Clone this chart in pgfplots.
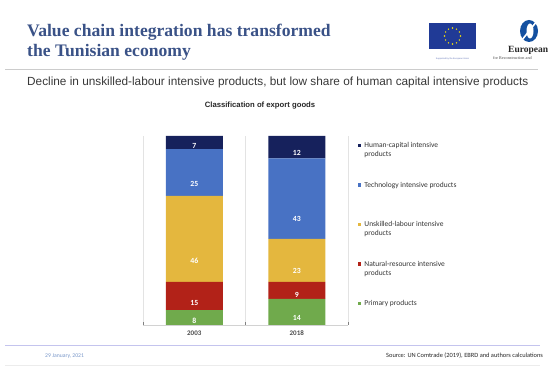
\documentclass[border=0pt]{standalone}
\usepackage{pgfplots}
\pgfplotsset{compat=1.18}
\usepackage{pgfplotstable}
\usepackage{fontspec}
\newfontfamily\calfont{Carlito}
\newfontfamily\arialfont{Liberation Sans}
\newfontfamily\seriffont{Liberation Serif}
\definecolor{navy}{RGB}{22,33,92}
\definecolor{techblue}{RGB}{72,114,196}
\definecolor{gold}{RGB}{228,183,62}
\definecolor{natred}{RGB}{178,34,24}
\definecolor{primgreen}{RGB}{112,170,76}
\definecolor{titleblue}{RGB}{58,82,135}
\definecolor{eublue}{RGB}{32,58,150}
\definecolor{ebrdblue}{RGB}{20,80,160}
\definecolor{datecol}{RGB}{120,150,200}
\pgfplotstableread{
x primary natural unskilled tech human
0 8 15 46 25 7
1 14 9 23 43 12
}\exports
\pgfplotsset{
  myleg/.style={legend image code/.code={\fill[##1] (0pt,0.6pt) rectangle (3.4pt,4.0pt);}},
}
\begin{document}
\begin{tikzpicture}[x=1pt,y=1pt]
\useasboundingbox (0,0) rectangle (556,379);
\clip (0,0) rectangle (556,379);
% title
\node[anchor=base west, inner sep=0, text=titleblue, font=\seriffont\bfseries\fontsize{17.6}{20}\selectfont] at (27,342) {Value chain integration has transformed};
\node[anchor=base west, inner sep=0, text=titleblue, font=\seriffont\bfseries\fontsize{17.6}{20}\selectfont] at (27,322) {the Tunisian economy};
% EU flag
\fill[eublue] (429,330) rectangle (476,356);
\foreach \a in {0,30,...,330}
  \fill[yellow!90!orange] ({452.5+8*cos(\a)},{343+8*sin(\a)}) circle (0.8);
\node[anchor=base, inner sep=0, text=eublue!70, font=\arialfont\fontsize{2.2}{2.5}\selectfont] at (452.5,319) {Supported by the European Union};
% EBRD logo
\fill[ebrdblue] (529,348) ellipse (9 and 11);
\fill[white] (530,348) ellipse (3.5 and 7.5);
\draw[white, line width=1.6pt] (522,339) -- (537,358);
\node[anchor=base west, inner sep=0, text=black!85, font=\seriffont\bfseries\fontsize{9.5}{10}\selectfont] at (508,326) {European};
\node[anchor=base west, inner sep=0, text=black!70, font=\seriffont\fontsize{4.2}{5}\selectfont] at (493,319) {for Reconstruction and};
% header rule
\draw[gray!40, line width=0.9pt] (5,310) -- (538,310);
% subtitle
\node[anchor=base west, inner sep=0, text=black!78, font=\arialfont\fontsize{11.8}{14}\selectfont] at (27,293) {Decline in unskilled-labour intensive products, but low share of human capital intensive products};
% chart title
\node[anchor=base, inner sep=0, text=black!85, font=\arialfont\bfseries\fontsize{7.7}{9}\selectfont] at (260,271) {Classification of export goods};
% footer
\draw[gray!45!blue!30, line width=0.8pt] (5,34) -- (540,34);
\draw[gray!15, line width=0.5pt] (5,14) -- (540,14);
\node[anchor=base west, inner sep=0, text=datecol, font=\calfont\fontsize{5.7}{6}\selectfont] at (45,21) {29 January, 2021};
\node[anchor=base west, inner sep=0, text=black!85, font=\calfont\fontsize{6.4}{7}\selectfont] at (386,21) {Source: UN Comtrade (2019), EBRD and authors calculations};
% chart
\begin{axis}[
  at={(143pt,54pt)}, anchor=south west,
  scale only axis, width=205pt, height=189pt,
  ybar stacked, bar width=57pt,
  xmin=-0.5, xmax=1.5, ymin=0, ymax=101,
  axis y line=none, axis x line*=bottom,
  x axis line style={draw=gray!35, line width=0.6pt, -},
  xtick={0,1}, xticklabels={2003,2018}, major tick length=0pt,
  minor xtick={-0.5,0.5,1.5}, xminorgrids,
  minor grid style={draw=gray!22, line width=0.5pt},
  xticklabel style={font=\calfont\bfseries\fontsize{7}{8}\selectfont, text=black!70, yshift=-2pt},
  /pgf/number format/assume math mode=true,
  visualization depends on=rawy\as\rawy,
  nodes near coords={\pgfmathprintnumber{\rawy}},
  every node near coord/.append style={anchor=center, yshift={-0.4678pt*\rawy}, text=white, font=\calfont\bfseries\fontsize{7.8}{8}\selectfont},
  reverse legend,
  legend style={at={(1.049,0.963)}, anchor=north west, draw=none, fill=none, inner sep=0pt, outer sep=0pt,
    row sep=0pt, column sep=3pt,
    font=\calfont\fontsize{7.5}{8.6}\selectfont, text=black!80,
    cells={anchor=base west},
    nodes={inner sep=0pt, text height=5pt, text depth=34.5pt}},
]
\addplot+[fill=primgreen, draw=none, myleg] table[x=x, y=primary] {\exports};
\addplot+[fill=natred, draw=none, myleg] table[x=x, y=natural] {\exports};
\addplot+[fill=gold, draw=none, myleg] table[x=x, y=unskilled] {\exports};
\addplot+[fill=techblue, draw=none, myleg] table[x=x, y=tech] {\exports};
\addplot+[fill=navy, draw=none, myleg] table[x=x, y=human] {\exports};
\addlegendentry{Primary products}
\addlegendentry{\parbox[t]{120pt}{Natural-resource intensive\\products}}
\addlegendentry{\parbox[t]{120pt}{Unskilled-labour intensive\\products}}
\addlegendentry{Technology intensive products}
\addlegendentry{\parbox[t]{120pt}{Human-capital intensive\\products}}
\end{axis}
\end{tikzpicture}
\end{document}
